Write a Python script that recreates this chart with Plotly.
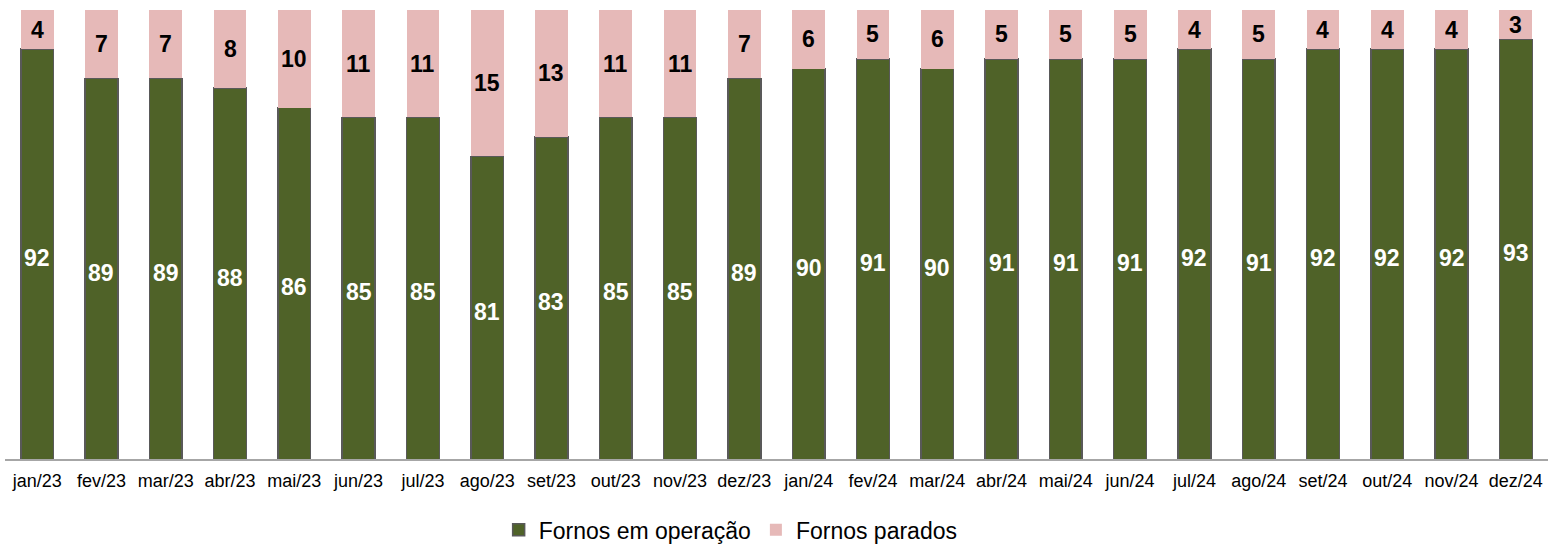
import plotly.graph_objects as go

meses = ["jan/23", "fev/23", "mar/23", "abr/23", "mai/23", "jun/23", "jul/23", "ago/23",
         "set/23", "out/23", "nov/23", "dez/23", "jan/24", "fev/24", "mar/24", "abr/24",
         "mai/24", "jun/24", "jul/24", "ago/24", "set/24", "out/24", "nov/24", "dez/24"]
em_operacao = [92, 89, 89, 88, 86, 85, 85, 81, 83, 85, 85, 89,
               90, 91, 90, 91, 91, 91, 92, 91, 92, 92, 92, 93]
parados = [4, 7, 7, 8, 10, 11, 11, 15, 13, 11, 11, 7,
           6, 5, 6, 5, 5, 5, 4, 5, 4, 4, 4, 3]

Y_MIN, Y_MAX = 50, 96
VERDE = "#4F6228"
ROSA = "#E6B9B8"
FONTE = "Liberation Sans, Arial, sans-serif"

fig = go.Figure()
fig.add_trace(go.Bar(
    x=meses, y=em_operacao, name="Fornos em operação",
    marker=dict(color=VERDE, line=dict(color="#595959", width=1.5)),
    hoverinfo="x+y",
))
fig.add_trace(go.Bar(
    x=meses, y=parados, name="Fornos parados",
    marker=dict(color=ROSA, line=dict(width=0)),
    hoverinfo="x+y",
))

# value labels centred on the visible part of each segment
anotacoes = []
for m, v, p in zip(meses, em_operacao, parados):
    anotacoes.append(dict(
        x=m, y=(Y_MIN + v) / 2, xref="x", yref="y", text=str(v), yshift=-4,
        showarrow=False, font=dict(family=FONTE, size=23, color="white", weight="bold"),
    ))
    anotacoes.append(dict(
        x=m, y=v + p / 2, xref="x", yref="y", text=str(p),
        showarrow=False, font=dict(family=FONTE, size=23, color="black", weight="bold"),
    ))

fig.update_layout(
    width=1548, height=544,
    margin=dict(l=5, r=0, t=10, b=85),
    barmode="stack", bargap=0.49,
    plot_bgcolor="white", paper_bgcolor="white",
    font=dict(family=FONTE, color="black"),
    annotations=anotacoes,
    showlegend=True,
    legend=dict(
        orientation="h", xref="container", yref="container",
        x=0.472, xanchor="center", y=0.026, yanchor="middle",
        font=dict(family=FONTE, size=23, color="black"),
        traceorder="normal", itemclick=False,
    ),
    xaxis=dict(
        showline=True, linecolor="#A6A6A6", linewidth=1.5,
        ticks="outside", ticklen=5, tickcolor="rgba(0,0,0,0)",
        tickfont=dict(family=FONTE, size=18, color="black"),
        showgrid=False, zeroline=False,
    ),
    yaxis=dict(
        range=[Y_MIN, Y_MAX], visible=False, showgrid=False, zeroline=False,
    ),
)

fig.write_html("out.html")
